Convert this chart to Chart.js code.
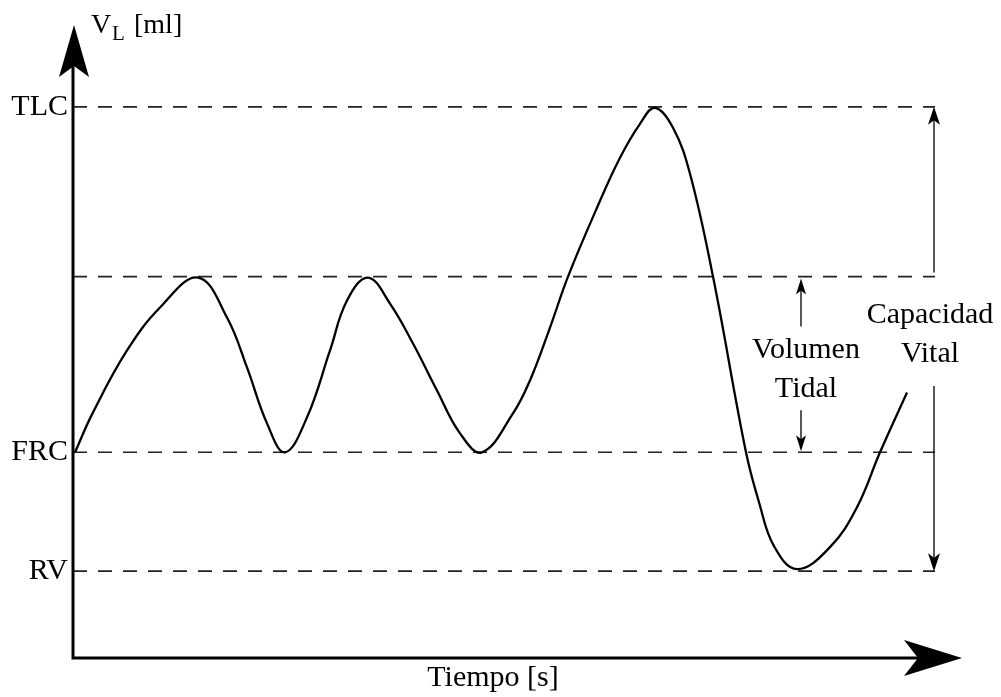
<!DOCTYPE html>
<html>
<head>
<meta charset="utf-8">
<script src="https://cdn.jsdelivr.net/npm/chart.js@4"></script>
<style>
  html, body { margin: 0; padding: 0; background: #fff; }
  #wrap { width: 1001px; height: 697px; }
</style>
</head>
<body>
<div id="wrap"><canvas id="spiro"></canvas></div>
<script>
// Spirogram (arbitrary units)
const times   = [0.2, 2.0, 5.4, 8.7, 12.5, 15.4, 17.4, 19.4, 21.2, 23.4, 25.7, 27.4, 29.5, 31.7, 34.0, 36.4, 38.7, 40.9,
                 44.0, 45.7, 47.7, 49.5, 52.4, 54.7, 56.7, 58.2, 60.0, 61.7, 64.0, 67.3, 68.6, 70.1, 72.4, 75.7, 78.4, 80.7, 83.4];
const volumes = [2060, 2460, 3080, 3510, 3810, 3410, 2910, 2350, 2060, 2410, 3080, 3580, 3810, 3550, 3150, 2680, 2250, 2060,
                 2450, 2780, 3310, 3820, 4510, 5010, 5350, 5510, 5310, 4850, 3820, 2060, 1560, 1120, 890, 1110, 1510, 2060, 2660];

// reference levels
const levelNames  = ['TLC', '', 'FRC', 'RV'];
const levelValues = [5520, 3820, 2060, 870];
const levelEnd = 86.2;

const tidalAt = 72.8;     // time where the tidal-volume arrow sits
const vitalAt = 86.1;     // time where the vital-capacity arrow sits

const FONT = '"Liberation Serif", "Times New Roman", serif';

function arrowHead(ctx, x, y, dir, len, half) {
  // dir: +1 pointing down, -1 pointing up
  ctx.beginPath();
  ctx.moveTo(x, y);
  ctx.lineTo(x - half, y - dir * len);
  ctx.lineTo(x, y - dir * len * 0.75);
  ctx.lineTo(x + half, y - dir * len);
  ctx.closePath();
  ctx.fill();
}

const decor = {
  id: 'decor',
  afterDraw(chart) {
    const ctx = chart.ctx;
    const xs = chart.scales.x, ys = chart.scales.y;
    const a = chart.chartArea;
    ctx.save();
    ctx.fillStyle = '#000';
    ctx.strokeStyle = '#000';

    // axes
    ctx.lineWidth = 3;
    ctx.beginPath();
    ctx.moveTo(a.left, a.bottom + 1.5);
    ctx.lineTo(a.left, a.top + 40);
    ctx.moveTo(a.left - 1.5, a.bottom);
    ctx.lineTo(a.right - 40, a.bottom);
    ctx.stroke();
    // y arrow
    ctx.beginPath();
    ctx.moveTo(a.left + 1, a.top + 2);
    ctx.lineTo(a.left - 14, a.top + 54);
    ctx.lineTo(a.left + 1, a.top + 43);
    ctx.lineTo(a.left + 16, a.top + 54);
    ctx.closePath();
    ctx.fill();
    // x arrow
    ctx.beginPath();
    ctx.moveTo(a.right, a.bottom);
    ctx.lineTo(a.right - 58, a.bottom - 18);
    ctx.lineTo(a.right - 44, a.bottom);
    ctx.lineTo(a.right - 58, a.bottom + 18);
    ctx.closePath();
    ctx.fill();

    // tidal volume arrow
    const tx = xs.getPixelForValue(tidalAt);
    const tTop = ys.getPixelForValue(levelValues[1]);
    const tBot = ys.getPixelForValue(levelValues[2]);
    ctx.lineWidth = 1.3;
    ctx.beginPath();
    ctx.moveTo(tx, tTop + 6); ctx.lineTo(tx, tTop + 50);
    ctx.moveTo(tx, tBot - 6); ctx.lineTo(tx, tBot - 42);
    ctx.stroke();
    arrowHead(ctx, tx, tTop + 2, -1, 16, 5);
    arrowHead(ctx, tx, tBot - 1, 1, 16, 5);

    // vital capacity arrow
    const vx = xs.getPixelForValue(vitalAt);
    const vTop = ys.getPixelForValue(levelValues[0]);
    const vBot = ys.getPixelForValue(levelValues[3]);
    ctx.beginPath();
    ctx.moveTo(vx, vTop + 6); ctx.lineTo(vx, ys.getPixelForValue(levelValues[1]) - 4);
    ctx.moveTo(vx, vBot - 6); ctx.lineTo(vx, 386);
    ctx.stroke();
    arrowHead(ctx, vx, vTop, -1, 18, 6);
    arrowHead(ctx, vx, vBot, 1, 18, 6);

    // annotation texts
    ctx.font = '30px ' + FONT;
    ctx.textAlign = 'center';
    ctx.textBaseline = 'alphabetic';
    ctx.fillText('Volumen', tx + 5, 358);
    ctx.fillText('Tidal', tx + 5, 397);
    ctx.fillText('Capacidad', vx - 4, 323);
    ctx.fillText('Vital', vx - 4, 362);
    ctx.fillText('Tiempo [s]', 493, 686);

    // y axis title V_L [ml]
    ctx.textAlign = 'left';
    ctx.font = '28px ' + FONT;
    ctx.fillText('V', 91, 33);
    ctx.font = '21px ' + FONT;
    ctx.fillText('L', 112, 40);
    ctx.font = '28px ' + FONT;
    ctx.fillText('[ml]', 134, 33);
    ctx.restore();
  }
};

const levelSets = levelValues.map(v => ({
  data: [{ x: 0, y: v }, { x: levelEnd, y: v }],
  borderColor: '#222',
  borderWidth: 1.6,
  borderDash: [14, 11],
  pointRadius: 0,
  tension: 0,
  order: 2
}));

new Chart(document.getElementById('spiro'), {
  type: 'line',
  data: {
    datasets: [{
      data: times.map((t, i) => ({ x: t, y: volumes[i] })),
      borderColor: '#000',
      borderWidth: 2.3,
      tension: 0.4,
      pointRadius: 0,
      order: 1
    }, ...levelSets]
  },
  options: {
    responsive: true,
    maintainAspectRatio: false,
    animation: false,
    layout: { padding: { top: 22, right: 39, bottom: 39, left: 0 } },
    plugins: { legend: { display: false }, tooltip: { enabled: false } },
    scales: {
      x: { type: 'linear', min: 0, max: 88.9, display: false },
      y: {
        min: 0, max: 6360,
        grid: { display: false, drawTicks: false },
        border: { display: false },
        afterFit(scale) { scale.width = 73; },
        afterBuildTicks(scale) { scale.ticks = levelValues.map(v => ({ value: v })); },
        ticks: {
          padding: 5,
          color: '#000',
          font: { family: FONT, size: 30 },
          callback: (v) => levelNames[levelValues.indexOf(v)]
        }
      }
    }
  },
  plugins: [decor]
});
</script>
</body>
</html>
